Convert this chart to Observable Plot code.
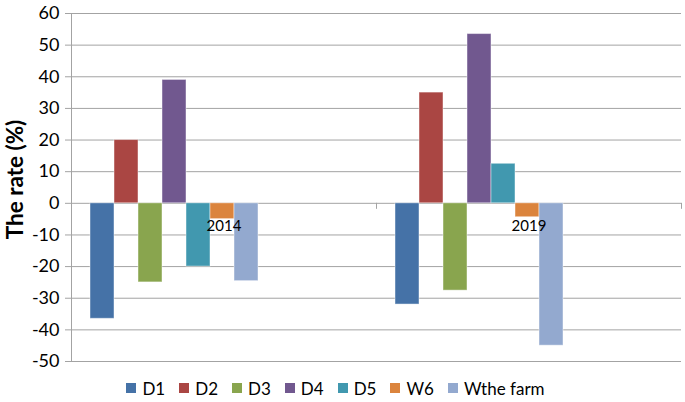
<!DOCTYPE html>
<html>
<head>
<meta charset="utf-8">
<script src="https://cdn.jsdelivr.net/npm/d3@7"></script>
<script src="https://cdn.jsdelivr.net/npm/@observablehq/plot@0.6"></script>
<style>
  html, body { margin: 0; padding: 0; background: #ffffff; }
  body { font-family: Lato, "Open Sans", sans-serif; width: 685px; height: 402px; overflow: hidden; }
  #chart svg { display: block; }
  .legend { display: flex; justify-content: center; align-items: center; height: 36px; padding-right: 14px; font-size: 17px; color: #000; }
  .legend .item { display: flex; align-items: center; margin: 0 7px; }
  .legend .sw { width: 10px; height: 10px; margin-right: 6px; }
</style>
</head>
<body>
<div id="chart"></div>
<script>
// ---- data ----
const years = ["2014", "2019"];
const series = ["D1", "D2", "D3", "D4", "D5", "W6", "Wthe farm"];
const colors = ["#4572A7", "#AA4643", "#89A54E", "#71588F", "#4198AF", "#DB843D", "#93A9CF"];
const values2014 = [-36.5, 20, -25, 39, -20, -5, -24.6];
const values2019 = [-32, 35, -27.6, 53.5, 12.5, -4.4, -45];
const yTicks = [60, 50, 40, 30, 20, 10, 0, -10, -20, -30, -40, -50];
const yTitle = "The rate (%)";

// ---- build table ----
const valuesByYear = {"2014": values2014, "2019": values2019};
const rows = [];
for (const yr of years) series.forEach((s, i) => rows.push({year: yr, series: s, value: valuesByYear[yr][i]}));

const W = 685, H = 370, MT = 13, MB = 9, ML = 71, MR = 4;
const GRID = "#a3a3a3";
const yDomain = [-50, 60];
const yS = Plot.scale({y: {domain: yDomain, range: [H - MB, MT]}});
const y0 = yS.apply(0);
const tickLen = 5;

const chart = Plot.plot({
  width: W, height: H,
  marginTop: MT, marginBottom: MB, marginLeft: ML, marginRight: MR,
  style: {fontFamily: "Lato, 'Open Sans', sans-serif", fontSize: "16px", color: "#000", background: "#fff"},
  fx: {domain: years, padding: 0, axis: null},
  x: {domain: series, paddingInner: 0, paddingOuter: 2.75, align: 0.136, axis: null},
  y: {domain: yDomain, axis: null},
  color: {domain: series, range: colors},
  marks: [
    Plot.ruleY(yTicks, {stroke: GRID, strokeWidth: 1}),
    Plot.barY(rows, {fx: "year", x: "series", y: "value", fill: "series", stroke: "#ffffff", strokeOpacity: 0.45, strokeWidth: 1}),
    Plot.frame({anchor: "left", facetAnchor: "left", stroke: GRID}),
    Plot.frame({anchor: "right", stroke: GRID, insetTop: y0 - MT, insetBottom: (H - MB) - (y0 + tickLen)}),
    Plot.axisY(yTicks, {tickSize: 6, tickPadding: 6, stroke: GRID, fill: "#000", fontSize: 18, label: null, tickFormat: d => String(d)}),
    Plot.text(years, {fx: d => d, y: () => 0, text: d => d, dy: 23, fontSize: 15, fill: "#000"}),
    Plot.text([yTitle], {fx: () => years[0], frameAnchor: "left", textAnchor: "middle", rotate: -90, dx: -56, dy: -8, text: d => d, fontWeight: "bold", fontSize: 22.5, fill: "#000"})
  ]
});
document.getElementById("chart").appendChild(chart);

// ---- legend ----
const legend = document.createElement("div");
legend.className = "legend";
series.forEach((s, i) => {
  const item = document.createElement("div");
  item.className = "item";
  const sw = document.createElement("span");
  sw.className = "sw";
  sw.style.background = colors[i];
  const t = document.createElement("span");
  t.textContent = s;
  item.appendChild(sw);
  item.appendChild(t);
  legend.appendChild(item);
});
document.getElementById("chart").appendChild(legend);
</script>
</body>
</html>
